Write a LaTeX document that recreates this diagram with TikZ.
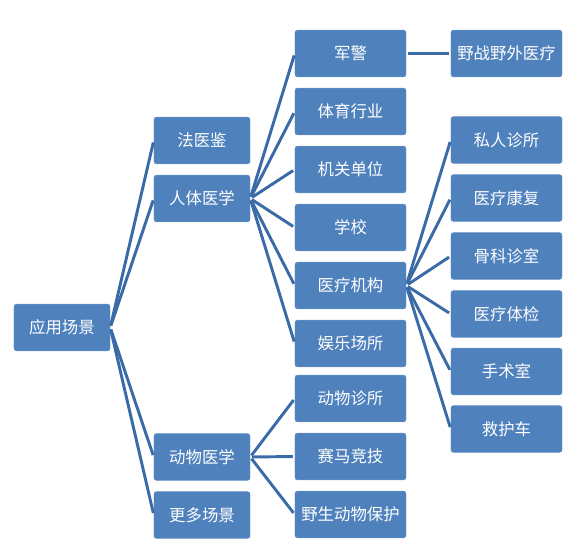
\documentclass[tikz,border=0pt]{standalone}
\usepackage{fontspec}
\newfontfamily\cjk{Noto Sans CJK SC}
\usepackage{tikz}
\usetikzlibrary{positioning}
\definecolor{boxblue}{HTML}{4F81BD}
\definecolor{boxedge}{HTML}{6A95CB}
\definecolor{linkblue}{HTML}{3B6BA7}

\begin{document}
\begin{tikzpicture}[
  x=0.03cm, y=-0.03cm,
  block/.style={rectangle, draw=boxedge, fill=boxblue, rounded corners=2pt,
                align=center, text=white, line width=0.4pt,
                minimum width=28.8mm, minimum height=14mm, font=\cjk\fontsize{14}{16}\selectfont},
  wide/.style={block, minimum width=33.3mm},
  link/.style={draw=linkblue, line width=2.5pt, shorten <=0.06cm, shorten >=0.06cm}
]
\useasboundingbox (0,0) rectangle (577,557);
% root
\node[block] (root) at (62,327.5) {应用场景};
% first level
\node[block] (fayi) at (202,140.5) {法医鉴};
\node[block] (renti) at (202,198.5) {人体医学};
\node[block] (dongwu) at (202,457) {动物医学};
\node[block] (gengduo) at (202,515) {更多场景};
% second level
\node[wide] (junjing) at (350.5,53.5) {军警};
\node[wide] (tiyu) at (350.5,111.5) {体育行业};
\node[wide] (jiguan) at (350.5,169.5) {机关单位};
\node[wide] (xuexiao) at (350.5,227.5) {学校};
\node[wide] (yiliao) at (350.5,285.5) {医疗机构};
\node[wide] (yule) at (350.5,343.5) {娱乐场所};
\node[wide] (zhensuo) at (350.5,398.5) {动物诊所};
\node[wide] (saima) at (350.5,456.5) {赛马竞技};
\node[wide] (yesheng) at (350.5,514.5) {野生动物保护};
% third level
\node[wide] (yezhan) at (506.5,53.5) {野战野外医疗};
\node[wide] (siren) at (506.5,140) {私人诊所};
\node[wide] (kangfu) at (506.5,198) {医疗康复};
\node[wide] (guke) at (506.5,256) {骨科诊室};
\node[wide] (tijian) at (506.5,314) {医疗体检};
\node[wide] (shoushu) at (506.5,371.5) {手术室};
\node[wide] (jiuhu) at (506.5,429) {救护车};
% connectors
\draw[link] (root.east) -- (fayi.west);
\draw[link] (root.east) -- (renti.west);
\draw[link] (root.east) -- (dongwu.west);
\draw[link] (root.east) -- (gengduo.west);
\draw[link] (renti.east) -- (junjing.west);
\draw[link] (renti.east) -- (tiyu.west);
\draw[link] (renti.east) -- (jiguan.west);
\draw[link] (renti.east) -- (xuexiao.west);
\draw[link] (renti.east) -- (yiliao.west);
\draw[link] (renti.east) -- (yule.west);
\draw[link] (dongwu.east) -- (zhensuo.west);
\draw[link] (dongwu.east) -- (saima.west);
\draw[link] (dongwu.east) -- (yesheng.west);
\draw[link] (junjing.east) -- (yezhan.west);
\draw[link] (yiliao.east) -- (siren.west);
\draw[link] (yiliao.east) -- (kangfu.west);
\draw[link] (yiliao.east) -- (guke.west);
\draw[link] (yiliao.east) -- (tijian.west);
\draw[link] (yiliao.east) -- (shoushu.west);
\draw[link] (yiliao.east) -- (jiuhu.west);
\end{tikzpicture}
\end{document}
